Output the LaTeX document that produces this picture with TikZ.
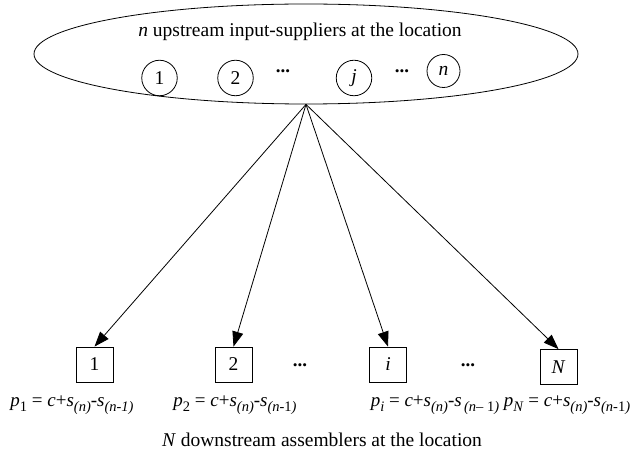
\documentclass[tikz,border=0pt]{standalone}
\usepackage{fontspec}
\setmainfont{Liberation Serif}
\usetikzlibrary{shapes.geometric,arrows.meta}
\newcommand\mysb[1]{\raisebox{-0.28em}{\fontsize{14.5}{16}\selectfont #1}}
\begin{document}
\begin{tikzpicture}[x=1pt,y=-1pt,
  every node/.style={font=\fontsize{19.5}{23}\selectfont},
  sup/.style={circle,draw,minimum size=35.5pt,inner sep=0pt,line width=0.8pt},
  asm/.style={rectangle,draw,minimum width=37pt,minimum height=35pt,inner sep=0pt,line width=0.8pt},
  lab/.style={font=\fontsize{19}{22}\selectfont,inner sep=0pt},
  arr/.style={-{Triangle[length=15pt,width=11pt]},line width=0.8pt},
  dots/.style={font=\fontsize{19}{22}\selectfont\bfseries,anchor=base,inner sep=0pt}]
\useasboundingbox (0,0) rectangle (635,454);
\node[draw,ellipse,minimum width=544pt,minimum height=100pt,inner sep=0pt,line width=0.8pt] (grp) at (306,54) {};
\node (title) at (300,32) {\textit{n} upstream input-suppliers at the location};
\node[sup] (c1) at (159.5,78) {1};
\node[sup] (c2) at (235.5,78) {2};
\node[dots] (d1) at (283,73) {...};
\node[sup] (cj) at (354,78) {\textit{j}};
\node[dots] (d2) at (402,73) {...};
\node[sup,minimum size=33pt] (cn) at (443.5,71) {\textit{n}};
\coordinate (apex) at (grp.south);
\node[asm] (b1) at (94.5,364.5) {1};
\node[asm] (b2) at (233.5,364.5) {2};
\node[asm] (bi) at (388,364.5) {\textit{i}};
\node[asm] (bN) at (558.5,367) {\textit{N}};
\node[dots] (d3) at (300,367) {...};
\node[dots] (d4) at (468,367) {...};
\draw[arr] (apex) -- (b1.north);
\draw[arr] (apex) -- (b2.north);
\draw[arr] (apex) -- (bi.north);
\draw[arr] (apex) -- (bN.north);
\node[lab] (l1) at (72,405) {\textit{p}\mysb{1} = \textit{c}+\textit{s}\mysb{\textit{(n)}}-\textit{s}\mysb{\textit{(n-1)}}};
\node[lab] (l2) at (235,405) {\textit{p}\mysb{2} = \textit{c}+\textit{s}\mysb{\textit{(n)}}-\textit{s}\mysb{\textit{(n-}1\textit{)}}};
\node[lab] (li) at (435,405) {\textit{p}\mysb{\textit{i}} = \textit{c}+\textit{s}\mysb{\textit{(n)}}-\textit{s}\mysb{\,\textit{(n}– 1\textit{)}}};
\node[lab] (lN) at (567,405) {\textit{p}\mysb{\textit{N}} = \textit{c}+\textit{s}\mysb{\textit{(n)}}-\textit{s}\mysb{\textit{(n-}1\textit{)}}};
\node (cap) at (322,440) {\textit{N} downstream assemblers at the location};
\end{tikzpicture}
\end{document}
